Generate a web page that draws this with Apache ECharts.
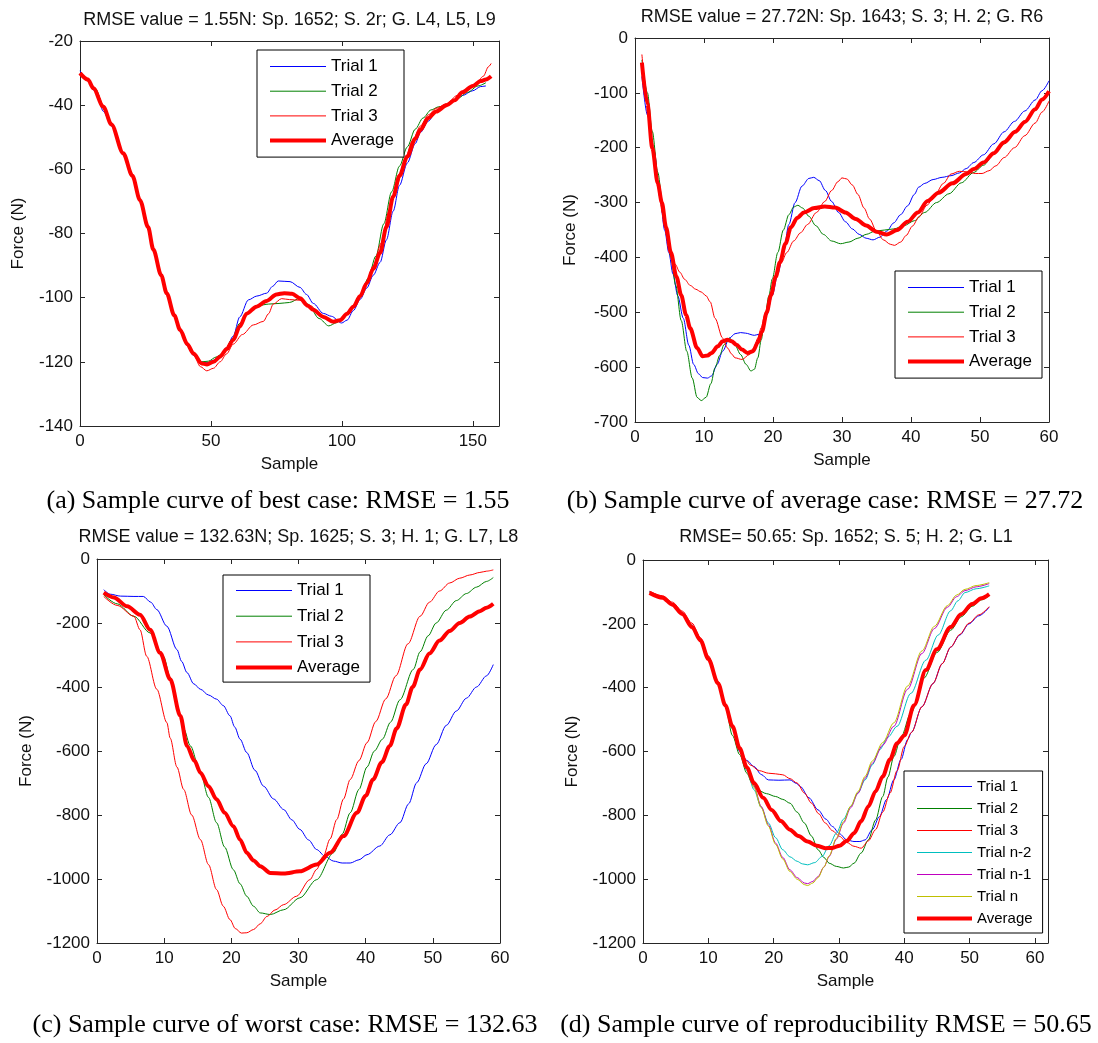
<!DOCTYPE html>
<html>
<head>
<meta charset="utf-8">
<script src="https://cdn.jsdelivr.net/npm/echarts@6/dist/echarts.min.js"></script>
<style>
html, body { margin: 0; padding: 0; background: #fff; }
#chart { width: 1098px; height: 1043px; }
</style>
</head>
<body>
<div id="chart"></div>
<script>
// (a) best case
let aXTicks = [0, 50, 100, 150];
let aT1 = [[0,-29.3],[3,-32],[6,-36],[9,-42],[12,-46.5],[16.5,-55.5],[20,-62.5],[23,-70],[26,-78.5],[28,-85.5],[31,-93.5],[33,-99],[36,-106],[38.2,-110.5],[41,-115],[43.3,-118],[46,-120],[48.5,-120.3],[51,-119.5],[53.5,-118],[56,-115.5],[58.5,-112],[61,-106],[64.3,-100.7],[67.5,-99.5],[71.3,-98.6],[73.5,-96.5],[75.7,-94.8],[80.2,-95],[84,-96.8],[86.5,-99],[89.1,-101.8],[92.9,-104.9],[96,-105.8],[99.9,-107.9],[102,-107],[104.4,-104],[107,-100.5],[109.5,-97],[112,-93],[114.6,-89],[117,-82],[119.6,-73],[122,-65],[125,-58],[128,-52],[130,-48.5],[133,-45],[136,-42],[140,-40],[143,-38.5],[146,-37],[150,-35.5],[153,-34.2],[155,-34]];
let aT2 = [[0,-30],[3,-32],[6,-35],[9,-40.5],[12,-46],[16.5,-55.5],[20,-62.5],[23,-70],[26,-78],[28,-85],[31,-93],[33,-98.6],[36,-105.5],[38.2,-110],[41,-114.5],[44,-118],[46.5,-120],[49,-119.8],[52,-118.5],[55,-117],[58,-113],[61,-108],[65,-104],[68,-102.5],[72,-102],[76,-101.8],[80,-101.5],[84,-100.2],[87,-102],[91.3,-106.5],[95,-108.8],[98,-107.8],[100.6,-105.8],[104,-103],[107,-99.5],[110,-94],[113,-87],[116,-77],[119,-67],[122,-59],[125,-53],[128,-47.5],[131,-44],[134,-41.5],[137,-40.5],[140,-40],[144,-38],[148,-36],[152,-34],[155,-33]];
let aT3 = [[0,-30],[3,-32.5],[6,-35.5],[9,-40],[12,-46],[16.5,-55],[20,-62],[23,-69.5],[26,-78],[28,-85],[31,-93],[33,-98.6],[36,-105.5],[38.2,-110],[41,-114],[43.3,-117.8],[46,-121.5],[48.4,-122.8],[51,-122],[53.5,-120],[56,-117.5],[58.5,-114.5],[62,-111.5],[66.2,-108.5],[70,-107.4],[72,-105],[73.8,-102],[77,-100.3],[80,-100.6],[84,-100.8],[88,-102.5],[92,-105.5],[97,-107.5],[100,-106.5],[103,-104],[106,-101],[109,-96],[112,-90],[115,-83],[118,-73],[121,-65],[124,-57],[127,-51],[130,-46.5],[133,-43],[136,-41],[140,-39.5],[144,-37],[148,-35],[151,-33.5],[154,-31],[156,-28],[157,-27]];
let aAvg = [[0,-30],[3,-32],[5.1,-34.7],[8.9,-40.5],[12,-46],[16.5,-55],[20,-62],[22.9,-69.6],[26,-78],[28,-85],[31,-93],[33.1,-98.6],[36,-105.5],[38.2,-110],[41,-114.5],[43.3,-117.4],[46.5,-120.5],[48.5,-120.8],[51,-120],[53.5,-118.4],[56,-116],[58.5,-113.2],[61,-109],[63.6,-105],[67.4,-102.8],[71.3,-101],[75,-99],[78,-98.6],[81,-98.8],[84,-100.2],[87,-102.5],[89,-103.8],[93,-106],[96.7,-107.5],[99.3,-107],[102,-105],[104.4,-102.8],[107,-99.5],[109.5,-95.5],[112,-91],[114.6,-86],[117,-78],[119.6,-68.5],[122,-62],[125,-56],[128,-50.5],[130,-47.7],[133,-44],[136,-42],[140,-40],[143,-38.5],[146,-36],[150,-34],[153,-32.5],[155,-32],[157,-31]];

// (b) average case
let bXTicks = [0, 10, 20, 30, 40, 50, 60];
let bT1 = [[1,-70],[1.8,-140],[2.8,-208],[3.6,-290],[4.3,-350],[4.9,-391],[5.5,-430],[6.2,-470],[7,-511],[7.8,-560],[8.5,-595],[9.2,-612],[9.8,-619],[10.5,-620],[11.1,-616],[11.9,-595],[12.7,-571],[13.7,-547],[14.5,-539],[15.3,-537],[16,-538],[17.3,-542],[18,-540],[18.4,-535],[19.1,-505],[19.9,-469],[20.7,-430],[21.5,-391],[22.3,-340],[23.2,-300],[24.2,-270],[25.2,-256],[25.9,-254],[26.7,-260],[27.6,-278],[28.5,-298],[29.5,-318],[30.5,-335],[31.5,-348],[32.5,-358],[33.5,-365],[34.5,-368],[35.5,-363],[36.5,-352],[37.5,-337],[38.5,-322],[39.5,-306],[40.5,-285],[41.1,-272],[42,-265],[43.2,-258],[44.5,-254],[45.8,-251],[47,-246],[48,-238],[49.1,-227],[50.5,-213],[52,-193],[53.5,-171],[55,-152],[56.5,-133],[58,-113],[59,-96],[60,-78]];
let bT2 = [[1,-40],[1.8,-100],[2.5,-170],[3.3,-245],[4,-300],[4.6,-350],[5.2,-400],[5.9,-451],[6.7,-515],[7.5,-571],[8.3,-620],[9,-655],[9.6,-661],[10.3,-655],[11,-630],[11.6,-601],[12.3,-578],[12.9,-559],[13.7,-547],[14.5,-560],[15.3,-577],[16.1,-595],[16.8,-607],[17.3,-604],[17.8,-583],[18.3,-550],[18.8,-511],[19.4,-470],[19.9,-439],[20.7,-391],[21.5,-350],[22.3,-322],[23,-308],[23.6,-305],[24.3,-310],[25.2,-325],[26.2,-342],[27.3,-358],[28.5,-370],[29.8,-375],[31,-372],[32.3,-365],[33.5,-358],[34.8,-352],[36.2,-350],[37.5,-348],[39,-342],[40.5,-333],[42,-318],[43.7,-300],[45.5,-284],[47.3,-264],[49.1,-245],[50.5,-232],[52,-212],[53.5,-193],[55,-173],[56.5,-153],[58,-132],[59,-114],[60,-98]];
let bT3 = [[1,-30],[1.8,-110],[2.5,-190],[3.3,-270],[4,-320],[4.6,-360],[5.2,-392],[5.8,-412],[6.5,-427],[7.2,-440],[8,-451],[8.8,-458],[9.6,-463],[10.3,-470],[10.9,-481],[11.6,-511],[12.7,-547],[13.4,-565],[14,-576],[14.5,-583],[15.5,-586],[16.6,-577],[17.2,-565],[17.8,-547],[18.3,-528],[18.8,-505],[19.6,-470],[20.4,-439],[21.2,-410],[22,-391],[23,-370],[24,-355],[25,-340],[26.3,-318],[27.5,-298],[28.5,-278],[29.4,-262],[30,-255],[30.7,-257],[31.5,-268],[32.3,-285],[33.2,-310],[34,-330],[35,-352],[36,-368],[37,-376],[37.6,-378],[38.5,-372],[39.3,-360],[40.2,-343],[41.2,-325],[42.3,-305],[43.5,-285],[44.7,-265],[45.8,-248],[47,-243],[48.2,-244],[49.3,-247],[50.3,-247],[51.3,-242],[52.3,-233],[53.5,-218],[55,-200],[56.5,-178],[58,-155],[59,-135],[60,-115]];
let bAvg = [[1,-45],[1.8,-120],[2.5,-200],[3.3,-265],[3.9,-300],[4.5,-345],[5.2,-391],[6,-435],[6.7,-469],[7.4,-505],[8,-529],[9,-565],[9.8,-580],[10.5,-579],[11.1,-574],[12,-562],[12.7,-553],[13.4,-550],[14,-553],[14.7,-559],[15.5,-568],[16.3,-574],[17.1,-571],[17.8,-555],[18.4,-535],[19.1,-500],[19.7,-469],[20.4,-435],[21,-409],[21.8,-375],[22.6,-345],[23.5,-328],[24.5,-318],[26,-310],[27.5,-307],[29,-309],[30.5,-318],[32,-330],[33.5,-342],[35,-353],[36.5,-358],[38,-350],[39.5,-335],[41,-318],[42.4,-297],[44,-282],[46,-265],[48,-248],[49.1,-239],[50.5,-227],[52,-210],[53.5,-190],[55.1,-171],[56.5,-153],[58,-130],[59,-112],[60,-97]];

// (c) worst case
let cXTicks = [0, 10, 20, 30, 40, 50, 60];
let cT1 = [[1,-96],[2,-110],[3.5,-116],[5.5,-117],[6.9,-117],[8,-135],[8.9,-158],[10.4,-210],[11.9,-283],[12.6,-320],[13.4,-355],[14.4,-390],[15.4,-407],[16.6,-425],[17.8,-438],[18.8,-458],[19.8,-490],[20.5,-525],[21.3,-563],[22.3,-605],[23.5,-660],[24.8,-710],[26.3,-750],[27.8,-783],[29,-815],[30.2,-845],[31.5,-878],[32.7,-908],[34,-930],[35.2,-944],[36.5,-950],[37.7,-950],[39,-940],[40.2,-924],[42.1,-897],[43.6,-862],[45.1,-824],[46.4,-765],[47.6,-699],[49,-640],[50.5,-580],[52,-520],[53.5,-475],[55,-435],[56.5,-400],[58,-365],[59,-330]];
let cT2 = [[1,-112],[3,-140],[5.5,-179],[7.9,-231],[9.9,-304],[10.9,-370],[11.9,-459],[12.9,-530],[13.9,-584],[15.4,-668],[16.6,-745],[17.8,-824],[19,-900],[20.3,-971],[21.3,-1015],[22.3,-1054],[23.3,-1085],[24.3,-1106],[25.8,-1111],[27.8,-1096],[30.2,-1059],[32.7,-1002],[35.2,-918],[36.5,-860],[37.7,-793],[39,-720],[40.2,-650],[41.3,-600],[42.5,-563],[43.7,-510],[45.1,-440],[47.1,-345],[48.1,-290],[49.3,-240],[50.5,-200],[52,-160],[53.5,-130],[55,-108],[56.5,-88],[58,-70],[59,-58]];
let cT3 = [[1,-117],[3,-145],[5.5,-179],[6.4,-221],[7.4,-304],[8.9,-407],[10.4,-511],[10.9,-560],[11.9,-650],[12.9,-720],[14.1,-800],[15.4,-877],[16.6,-955],[17.8,-1033],[18.8,-1085],[19.8,-1127],[20.6,-1155],[21.5,-1169],[22.3,-1168],[23.3,-1158],[24.3,-1140],[25.3,-1117],[26.5,-1097],[27.8,-1080],[29.7,-1054],[31.7,-1002],[32.7,-970],[33.7,-929],[34.7,-875],[35.7,-814],[36.7,-750],[37.7,-689],[39,-630],[40.2,-574],[41.5,-508],[43,-437],[44.5,-365],[46.3,-265],[48.1,-179],[49.5,-135],[51,-100],[52.5,-75],[54,-60],[55.5,-50],[57,-42],[58,-38],[59,-34]];
let cAvg = [[1,-105],[2.5,-120],[4.5,-148],[6.4,-174],[7.9,-221],[9.4,-293],[10.9,-376],[12.4,-490],[13.4,-584],[14.5,-630],[15.4,-668],[16.6,-710],[17.8,-751],[19,-793],[20.3,-835],[21.3,-877],[22.3,-918],[23.3,-942],[24.3,-960],[25.8,-981],[27.8,-983],[30.2,-976],[32.7,-955],[34.7,-918],[36.7,-866],[38.7,-793],[40,-740],[41.1,-689],[42.4,-635],[43.6,-584],[44.6,-530],[46,-455],[47,-400],[48.1,-345],[49.5,-295],[51,-255],[52.5,-225],[54,-200],[55.5,-180],[57,-163],[58,-152],[59,-140]];

// (d) reproducibility
let dXTicks = [0, 10, 20, 30, 40, 50, 60];
let dT1 = [[1,-100],[3,-116],[4.5,-138],[6,-166],[7.5,-205],[8.8,-248],[10,-305],[11.5,-385],[12.6,-455],[13.7,-525],[14.8,-600],[15.9,-628],[17,-647],[18.1,-672],[19.2,-689],[20.8,-690],[22.5,-689],[23.5,-700],[24.1,-710],[25.4,-745],[26.8,-783],[28,-812],[29,-835],[30.1,-858],[31.2,-877],[32.3,-882],[33.2,-882],[34,-877],[35.1,-845],[36.2,-804],[37.3,-750],[38.4,-689],[39.5,-625],[40.5,-563],[41.1,-540],[42.7,-460],[44.4,-387],[45.8,-325],[47.1,-273],[48.5,-235],[49.9,-200],[51.4,-175],[53,-148]];
let dT2 = [[1,-101],[3,-117],[4.5,-139],[6,-167],[7.5,-207],[8.8,-250],[10,-308],[11.5,-390],[12.6,-460],[13.7,-550],[14.8,-610],[15.9,-668],[16.7,-700],[17.5,-720],[18.9,-732],[20.3,-741],[21.4,-750],[22.5,-762],[23.6,-790],[24.7,-824],[25.8,-865],[26.8,-908],[27.7,-932],[28.5,-950],[29.6,-960],[30.7,-965],[31.5,-962],[32.3,-950],[33.4,-918],[34.5,-877],[35.6,-815],[36.7,-741],[37.5,-680],[38.4,-616],[39.5,-555],[41,-480],[43,-370],[45,-290],[47.1,-220],[48.7,-178],[50.4,-145],[51.8,-125],[53,-112]];
let dT3 = [[1,-98],[3,-112],[4.5,-132],[6,-160],[7.5,-198],[8.8,-243],[10,-300],[11.5,-380],[12.6,-450],[13.7,-520],[14.8,-590],[15.9,-630],[16.4,-642],[17.8,-660],[19.2,-668],[20.3,-670],[21.4,-673],[22.5,-685],[23.6,-699],[24.7,-730],[25.8,-762],[26.9,-795],[27.9,-824],[29,-848],[30.1,-866],[31.2,-885],[32.3,-897],[33.4,-903],[34.5,-880],[35.6,-845],[36.7,-790],[37.8,-731],[38.9,-660],[40,-584],[41.1,-540],[42.7,-460],[44.4,-387],[45.8,-325],[47.1,-273],[48.5,-233],[49.9,-198],[51.4,-172],[53,-146]];
let dTn2 = [[1,-100],[3,-116],[4.5,-137],[6,-165],[7.5,-205],[8.8,-248],[10,-305],[11.5,-385],[12.6,-455],[13.7,-530],[14.8,-589],[15.9,-660],[17,-720],[18.1,-775],[19.2,-824],[20.3,-870],[21.4,-908],[22.5,-930],[23.6,-944],[24.4,-952],[25.2,-955],[26.3,-948],[27.4,-929],[28.5,-895],[29.6,-856],[30.7,-812],[31.8,-772],[32.9,-730],[34,-689],[35.1,-642],[36.2,-595],[37.5,-555],[38.9,-521],[41,-418],[43.3,-314],[45.2,-235],[47.1,-159],[48.2,-128],[49.3,-102],[51,-90],[53,-81]];
let dTn1 = [[1,-100],[3,-115],[4.5,-136],[6,-164],[7.5,-203],[8.8,-246],[10,-303],[11.5,-383],[12.6,-453],[13.7,-528],[14.8,-590],[15.9,-647],[17,-710],[18.1,-772],[19.2,-830],[20.3,-887],[21.4,-932],[22.5,-971],[23.6,-995],[24.7,-1012],[25.2,-1014],[26,-1007],[26.8,-992],[27.7,-962],[28.5,-929],[29.6,-875],[30.7,-824],[31.8,-776],[32.9,-731],[34,-684],[35.1,-637],[36.7,-580],[38.4,-521],[40.5,-405],[42.7,-293],[44.6,-215],[46.6,-148],[48,-115],[49.3,-96],[51,-84],[53,-74]];
let dTn = [[1,-102],[3,-117],[4.5,-137],[6,-165],[7.5,-204],[8.8,-247],[10,-304],[11.5,-384],[12.6,-454],[13.7,-529],[14.8,-592],[15.9,-650],[17,-713],[18.1,-776],[19.2,-834],[20.3,-891],[21.4,-937],[22.5,-976],[23.6,-1000],[24.7,-1017],[25.2,-1020],[26,-1012],[26.8,-995],[27.7,-962],[28.5,-927],[29.6,-872],[30.7,-820],[31.8,-771],[32.9,-726],[34,-678],[35.1,-630],[36.7,-572],[38.4,-510],[40.5,-395],[42.7,-285],[44.6,-208],[46.6,-143],[48,-110],[49.3,-92],[51,-80],[53,-71]];
let dAvg = [[1,-103],[3,-118],[4.5,-140],[6,-169],[7.5,-210],[8.8,-252],[10,-310],[11.5,-387],[12.6,-455],[13.7,-521],[14.8,-590],[15.9,-650],[17,-699],[18.4,-745],[19.7,-783],[21.1,-818],[22.5,-845],[23.8,-865],[25.2,-882],[26.6,-895],[27.9,-903],[29,-902],[30.1,-895],[31.2,-880],[32.3,-856],[33.4,-818],[34.5,-772],[35.6,-725],[36.7,-678],[37.8,-625],[38.9,-574],[40,-550],[41.5,-455],[43.3,-345],[45,-280],[47.1,-210],[48.7,-170],[50.4,-138],[51.8,-120],[53,-107]];

let titles = [
    'RMSE value = 1.55N: Sp. 1652; S. 2r; G. L4, L5, L9',
    'RMSE value = 27.72N: Sp. 1643; S. 3; H. 2; G. R6',
    'RMSE value = 132.63N; Sp. 1625; S. 3; H. 1; G. L7, L8',
    'RMSE= 50.65: Sp. 1652; S. 5; H. 2; G. L1'
];
let captions = [
    '(a) Sample curve of best case: RMSE = 1.55',
    '(b) Sample curve of average case: RMSE = 27.72',
    '(c) Sample curve of worst case: RMSE = 132.63',
    '(d) Sample curve of reproducibility RMSE = 50.65'
];

let chart = echarts.init(document.getElementById('chart'));
let font = "'Liberation Sans', Arial, sans-serif";
let axisColor = '#262626';

let grids = [
    {left: 80, top: 41, width: 419, height: 385},
    {left: 635, top: 38, width: 414, height: 384},
    {left: 97, top: 559, width: 403, height: 384},
    {left: 643, top: 560, width: 405, height: 383}
];
let xRange = [[0, 160, 50], [0, 60, 10], [0, 60, 10], [0, 62, 10]];
let xTicks = [aXTicks, bXTicks, cXTicks, dXTicks];
let yRange = [[-140, -20, 20], [-700, 0, 100], [-1200, 0, 200], [-1200, 0, 200]];
let yNameGap = [53, 56, 62, 62];

let xAxes = [], yAxes = [];
grids.forEach((g, i) => {
    [false, true].forEach(mirror => {
        xAxes.push({
            type: 'value', gridIndex: i, position: mirror ? 'top' : 'bottom',
            min: xRange[i][0], max: xRange[i][1], interval: xRange[i][2],
            axisLine: {show: true, onZero: false, lineStyle: {color: axisColor, width: 1}},
            axisTick: {show: true, inside: true, length: 5, customValues: xTicks[i], lineStyle: {color: axisColor}},
            axisLabel: {show: !mirror, customValues: xTicks[i], margin: 7, color: '#111', fontSize: 17, fontFamily: font,
                formatter: v => String(v)},
            splitLine: {show: false},
            name: mirror ? '' : 'Sample', nameLocation: 'middle', nameGap: 30,
            nameTextStyle: {color: '#111', fontSize: 17, fontFamily: font}
        });
        yAxes.push({
            type: 'value', gridIndex: i, position: mirror ? 'right' : 'left',
            min: yRange[i][0], max: yRange[i][1], interval: yRange[i][2],
            axisLine: {show: true, onZero: false, lineStyle: {color: axisColor, width: 1}},
            axisTick: {show: true, inside: true, length: 5, lineStyle: {color: axisColor}},
            axisLabel: {show: !mirror, margin: 7, color: '#111', fontSize: 17, fontFamily: font,
                formatter: v => String(v)},
            splitLine: {show: false},
            name: mirror ? '' : 'Force (N)', nameLocation: 'middle', nameGap: yNameGap[i],
            nameTextStyle: {color: '#111', fontSize: 17, fontFamily: font}
        });
    });
});

function line(name, data, color, gi) {
    let avg = name === 'Average';
    return {
        type: 'line', name: name, data: data,
        xAxisIndex: gi * 2, yAxisIndex: gi * 2,
        symbol: 'none', smooth: 0.3, smoothMonotone: 'x',
        z: avg ? 3 : 2, silent: true, animation: false,
        lineStyle: {color: color, width: avg ? 4 : 1},
        itemStyle: {color: color}
    };
}

let colors = {
    'Trial 1': '#0000ff', 'Trial 2': '#008000', 'Trial 3': '#ff0000',
    'Trial n-2': '#00bfbf', 'Trial n-1': '#bf00bf', 'Trial n': '#bfbf00', 'Average': '#ff0000'
};
let series = [
    line('Trial 1', aT1, colors['Trial 1'], 0), line('Trial 2', aT2, colors['Trial 2'], 0),
    line('Trial 3', aT3, colors['Trial 3'], 0), line('Average', aAvg, colors['Average'], 0),
    line('Trial 1', bT1, colors['Trial 1'], 1), line('Trial 2', bT2, colors['Trial 2'], 1),
    line('Trial 3', bT3, colors['Trial 3'], 1), line('Average', bAvg, colors['Average'], 1),
    line('Trial 1', cT1, colors['Trial 1'], 2), line('Trial 2', cT2, colors['Trial 2'], 2),
    line('Trial 3', cT3, colors['Trial 3'], 2), line('Average', cAvg, colors['Average'], 2),
    line('Trial 1', dT1, colors['Trial 1'], 3), line('Trial 2', dT2, colors['Trial 2'], 3),
    line('Trial 3', dT3, colors['Trial 3'], 3), line('Trial n-2', dTn2, colors['Trial n-2'], 3),
    line('Trial n-1', dTn1, colors['Trial n-1'], 3), line('Trial n', dTn, colors['Trial n'], 3),
    line('Average', dAvg, colors['Average'], 3)
];

function legend(names, left, top, fs, iw, ih, gap, pad) {
    return {
        orient: 'vertical', left: left, top: top, selectedMode: false,
        backgroundColor: '#fff', borderColor: '#000', borderWidth: 1, borderRadius: 0,
        padding: pad, itemWidth: iw, itemHeight: ih, itemGap: gap,
        itemStyle: {opacity: 0},
        textStyle: {color: '#000', fontSize: fs, fontFamily: font},
        data: names.map(n => ({name: n, lineStyle: {color: colors[n], width: n === 'Average' ? 4 : 1}}))
    };
}
let names3 = ['Trial 1', 'Trial 2', 'Trial 3', 'Average'];
let namesN = ['Trial 1', 'Trial 2', 'Trial 3', 'Trial n-2', 'Trial n-1', 'Trial n', 'Average'];

let titlePos = [[289.5, 20], [842, 17], [298.5, 537], [846, 537]];
let captionPos = [[278, 501], [825, 501], [285, 1025], [826, 1025]];
let graphics = [];
titles.forEach((t, i) => graphics.push({
    type: 'text', x: titlePos[i][0], y: titlePos[i][1], silent: true,
    style: {text: t, fill: '#111', fontSize: 18, fontFamily: font, align: 'center', verticalAlign: 'middle'}
}));
captions.forEach((t, i) => graphics.push({
    type: 'text', x: captionPos[i][0], y: captionPos[i][1], silent: true,
    style: {text: t, fill: '#000', fontSize: 26, fontFamily: "'Liberation Serif', 'Times New Roman', serif", align: 'center', verticalAlign: 'middle'}
}));

let option = {
    backgroundColor: '#fff',
    animation: false,
    grid: grids,
    xAxis: xAxes,
    yAxis: yAxes,
    legend: [
        legend(names3, 257, 50, 17, 56, 18, 7.7, [8, 10, 8, 11]),
        legend(names3, 895, 271, 17, 56, 18, 7.7, [8, 10, 8, 11]),
        legend(names3, 223, 575, 17, 56, 18, 8.7, [7, 10, 6, 11]),
        legend(namesN, 904, 771, 15, 55, 16, 7, [8, 10, 7, 11])
    ],
    graphic: graphics,
    series: series
};
chart.setOption(option);
</script>
</body>
</html>
